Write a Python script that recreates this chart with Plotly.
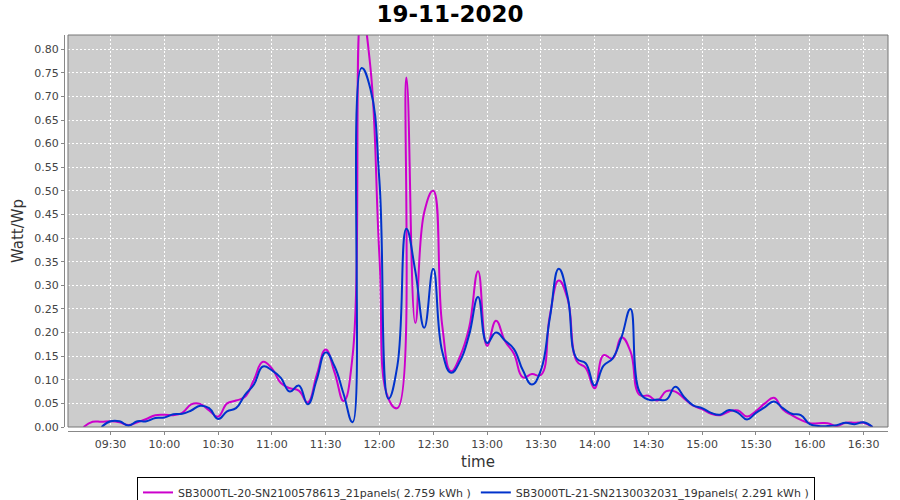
import plotly.graph_objects as go

times = ["09:15", "09:20", "09:25", "09:30", "09:35", "09:40", "09:45", "09:50", "09:55",
         "10:00", "10:05", "10:10", "10:15", "10:20", "10:25", "10:30", "10:35", "10:40", "10:45", "10:50", "10:55",
         "11:00", "11:05", "11:10", "11:15", "11:20", "11:25", "11:30", "11:35", "11:40", "11:45", "11:50", "11:55",
         "12:00", "12:05", "12:10", "12:15", "12:20", "12:25", "12:30", "12:35", "12:40", "12:45", "12:50", "12:55",
         "13:00", "13:05", "13:10", "13:15", "13:20", "13:25", "13:30", "13:35", "13:40", "13:45", "13:50", "13:55",
         "14:00", "14:05", "14:10", "14:15", "14:20", "14:25", "14:30", "14:35", "14:40", "14:45", "14:50", "14:55",
         "15:00", "15:05", "15:10", "15:15", "15:20", "15:25", "15:30", "15:35", "15:40", "15:45", "15:50", "15:55",
         "16:00", "16:05", "16:10", "16:15", "16:20", "16:25", "16:30", "16:35"]

sb20 = [0.0, 0.011, 0.011, 0.012, 0.010, 0.004, 0.010, 0.017, 0.025,
        0.026, 0.025, 0.030, 0.048, 0.049, 0.035, 0.022, 0.050, 0.056, 0.064, 0.100, 0.138,
        0.124, 0.093, 0.082, 0.077, 0.052, 0.110, 0.164, 0.115, 0.055, 0.150, 0.880, 0.760,
        0.360, 0.060, 0.040, 0.740, 0.220, 0.455, 0.500, 0.215, 0.118, 0.150, 0.210, 0.330,
        0.172, 0.225, 0.182, 0.155, 0.105, 0.112, 0.110, 0.235, 0.310, 0.270, 0.140, 0.125,
        0.082, 0.152, 0.145, 0.190, 0.160, 0.068, 0.066, 0.056, 0.076, 0.075, 0.060, 0.045,
        0.038, 0.028, 0.025, 0.033, 0.035, 0.022, 0.034, 0.050, 0.062, 0.037, 0.025, 0.015,
        0.008, 0.008, 0.008, 0.002, 0.009, 0.009, 0.009, 0.0]

sb21 = [None, None, 0.0, 0.012, 0.012, 0.003, 0.012, 0.012, 0.019,
        0.020, 0.027, 0.028, 0.035, 0.045, 0.040, 0.017, 0.033, 0.040, 0.068, 0.090, 0.128,
        0.120, 0.104, 0.075, 0.088, 0.048, 0.100, 0.158, 0.128, 0.070, 0.010, 0.760, 0.715,
        0.520, 0.060, 0.130, 0.420, 0.330, 0.210, 0.335, 0.160, 0.115, 0.140, 0.195, 0.275,
        0.178, 0.200, 0.183, 0.165, 0.120, 0.090, 0.120, 0.230, 0.335, 0.275, 0.145, 0.135,
        0.088, 0.130, 0.145, 0.190, 0.250, 0.075, 0.058, 0.058, 0.058, 0.085, 0.063, 0.046,
        0.040, 0.030, 0.026, 0.036, 0.030, 0.016, 0.030, 0.042, 0.054, 0.040, 0.028, 0.025,
        0.006, 0.002, 0.002, 0.004, 0.009, 0.006, 0.010, 0.0]

names = ["SB3000TL-20-SN2100578613_21panels( 2.759 kWh )",
         "SB3000TL-21-SN2130032031_19panels( 2.291 kWh )"]
colors = ["#cc00cc", "#0033cc"]
ytick_vals = [i * 0.05 for i in range(17)]

x = ["2020-11-19 " + t for t in times]

fig = go.Figure()
for vals, name, col in zip([sb20, sb21], names, colors):
    fig.add_trace(go.Scatter(x=x, y=vals, name=name, mode="lines",
                             line=dict(color=col, width=2, shape="spline", smoothing=1.3)))

font = "DejaVu Sans"
fig.update_layout(
    width=900, height=500,
    margin=dict(l=64, r=12, t=35, b=69, autoexpand=False),
    paper_bgcolor="white",
    plot_bgcolor="#cccccc",
    title=dict(text="<b>19-11-2020</b>", x=0.5, xanchor="center", y=0.972, yanchor="middle",
               font=dict(family=font, size=23, color="black")),
    font=dict(family=font, size=11, color="#444444"),
    xaxis=dict(
        domain=[0.00485, 1], anchor="free", position=0,
        type="date",
        range=["2020-11-19 09:06:17", "2020-11-19 16:43:38"],
        tickformat="%H:%M", dtick=30 * 60 * 1000, tick0="2020-11-19 09:00",
        showgrid=True, gridcolor="white", griddash="2px,2px", gridwidth=1,
        showline=True, linecolor="#888888", linewidth=1,
        ticks="outside", ticklen=3, tickcolor="#888888",
        tickfont=dict(family=font, size=11, color="#444444"),
        title=dict(text="time", font=dict(family=font, size=15, color="#333333"), standoff=6),
        zeroline=False, automargin=False,
    ),
    yaxis=dict(
        domain=[0.0101, 1], anchor="free", position=0,
        range=[0, 0.830],
        tickvals=ytick_vals, tickformat=".2f",
        showgrid=True, gridcolor="white", griddash="2px,2px", gridwidth=1,
        showline=True, linecolor="#888888", linewidth=1,
        ticks="outside", ticklen=3, tickcolor="#888888",
        tickfont=dict(family=font, size=11, color="#444444"),
        title=dict(text="Watt/Wp", font=dict(family=font, size=15, color="#333333"), standoff=6),
        zeroline=False, automargin=False,
    ),
    legend=dict(orientation="h", x=0.5, xanchor="center", y=-0.116, yanchor="top",
                bordercolor="black", borderwidth=1, bgcolor="white",
                font=dict(family=font, size=11, color="#333333"),
                itemwidth=30, tracegroupgap=0),
    showlegend=True,
)
fig.add_shape(type="rect", xref="x domain", yref="y domain", x0=0, x1=1, y0=0, y1=1,
              line=dict(color="#777777", width=1), fillcolor="rgba(0,0,0,0)", layer="above")

fig.write_html("out.html",
               config={"displayModeBar": False},
               post_script="document.body.style.margin='0';document.body.style.padding='0';")
